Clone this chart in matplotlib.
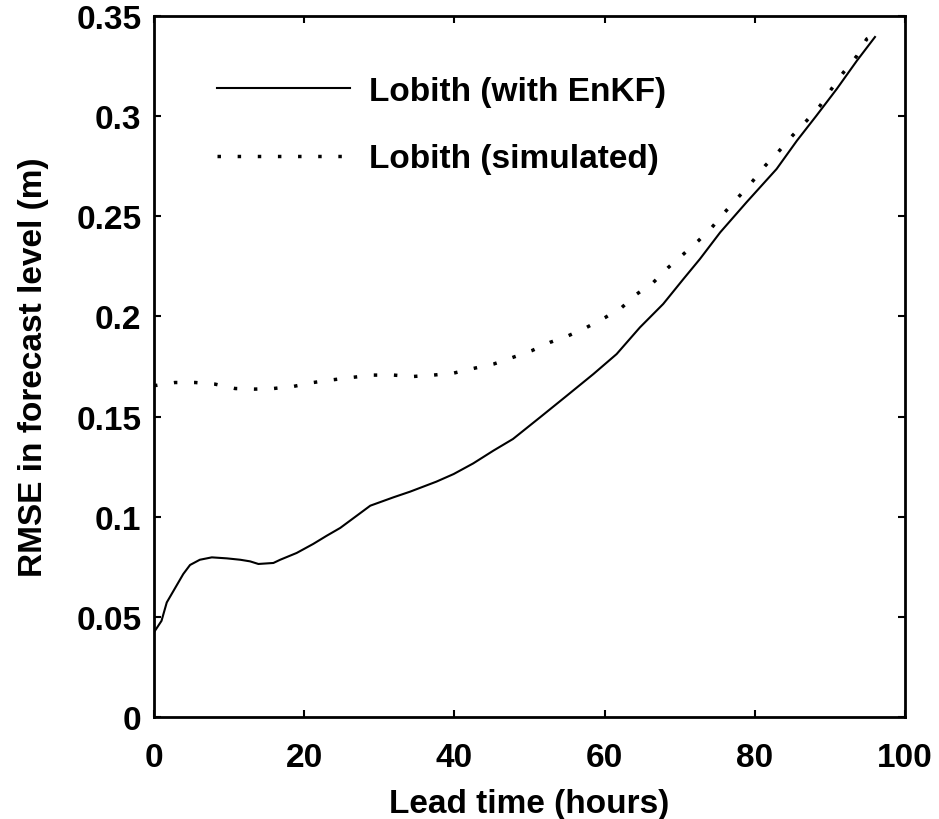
import matplotlib
matplotlib.use("Agg")
import matplotlib.pyplot as plt

# Lobith RMSE vs lead time
enkf_hours = [0, 1, 1.7, 3.9, 4.8, 6.1, 7.7, 9.7, 11.5, 12.8, 13.9, 15.9, 16.8,
              19, 21.2, 23, 24.8, 27, 28.8, 31.9, 34.1, 37.6, 39.9, 42.5, 45.2,
              47.8, 51.4, 54.7, 58.5, 61.6, 64.7, 67.8, 70.5, 72.7, 75.4, 78.9,
              82.9, 85.6, 88.2, 90.9, 93.6, 96]
enkf_rmse = [0.0423, 0.048, 0.0572, 0.0714, 0.0759, 0.0785, 0.0797, 0.0792,
             0.0785, 0.0777, 0.0764, 0.0769, 0.0785, 0.0819, 0.0864, 0.0905,
             0.0944, 0.1005, 0.1055, 0.1097, 0.1125, 0.1175, 0.1213, 0.1266,
             0.133, 0.1388, 0.1496, 0.1596, 0.1712, 0.1812, 0.1945, 0.2062,
             0.2187, 0.2287, 0.242, 0.257, 0.2736, 0.2877, 0.3002, 0.3135,
             0.3277, 0.3395]

sim_hours = [0, 2.8, 5.5, 8.1, 10.8, 13.4, 15.9, 18.5, 21.2, 23.9, 26.5, 29.2,
             31.9, 34.5, 37.2, 39.9, 42.5, 45.2, 47.6, 50.3, 52.7, 55.2, 57.6,
             60.1, 62.3, 64.3, 66.5, 68.5, 70.5, 72.5, 74.3, 76, 77.8, 79.6,
             81.4, 83.1, 85, 86.9, 88.7, 90.2, 91.8, 93.6, 94.9, 96]
sim_rmse = [0.1654, 0.167, 0.167, 0.1662, 0.164, 0.1637, 0.164, 0.165, 0.167,
            0.1684, 0.1696, 0.1707, 0.1707, 0.170, 0.1707, 0.1717, 0.174,
            0.1762, 0.1793, 0.1829, 0.187, 0.1904, 0.1945, 0.1995, 0.2045,
            0.2112, 0.217, 0.2245, 0.2311, 0.2378, 0.2445, 0.252, 0.2595,
            0.267, 0.2753, 0.282, 0.2902, 0.2977, 0.3052, 0.3135, 0.3218,
            0.3301, 0.3385, 0.3405]

x_ticks = [0, 20, 40, 60, 80, 100]
y_ticks = [0, 0.05, 0.1, 0.15, 0.2, 0.25, 0.3, 0.35]
y_labels = ["0", "0.05", "0.1", "0.15", "0.2", "0.25", "0.3", "0.35"]

plt.rcParams["font.family"] = ["Liberation Sans", "DejaVu Sans"]
plt.rcParams["font.weight"] = "bold"

fig = plt.figure(figsize=(9.39, 8.2), dpi=100)
ax = fig.add_axes([0.164, 0.1244, 0.7998, 0.8549])

ax.plot(enkf_hours, enkf_rmse, color="black", lw=1.5, label="Lobith (with EnKF)")
ax.plot(sim_hours, sim_rmse, color="black", lw=2.5, dashes=(1, 4.8),
        label="Lobith (simulated)")

ax.set_xlim(0, 100)
ax.set_ylim(0, 0.35)
ax.set_xticks(x_ticks)
ax.set_xticklabels([str(t) for t in x_ticks])
ax.set_yticks(y_ticks)
ax.set_yticklabels(y_labels)

for s in ax.spines.values():
    s.set_linewidth(2)
ax.tick_params(direction="in", length=5, width=1.5, top=True, right=True,
               labelsize=24)
ax.tick_params(axis="x", pad=18)
ax.tick_params(axis="y", pad=9)

ax.set_xlabel("Lead time (hours)", fontsize=24, fontweight="bold", labelpad=11)
ax.set_ylabel("RMSE in forecast level (m)", fontsize=24, fontweight="bold",
              labelpad=20)

ax.legend(loc="upper left", bbox_to_anchor=(0.084, 0.915), frameon=False,
          fontsize=24, handlelength=4.0, handletextpad=0.57, labelspacing=1.1,
          borderpad=0, borderaxespad=0)

fig.savefig("out.png", dpi=100)
